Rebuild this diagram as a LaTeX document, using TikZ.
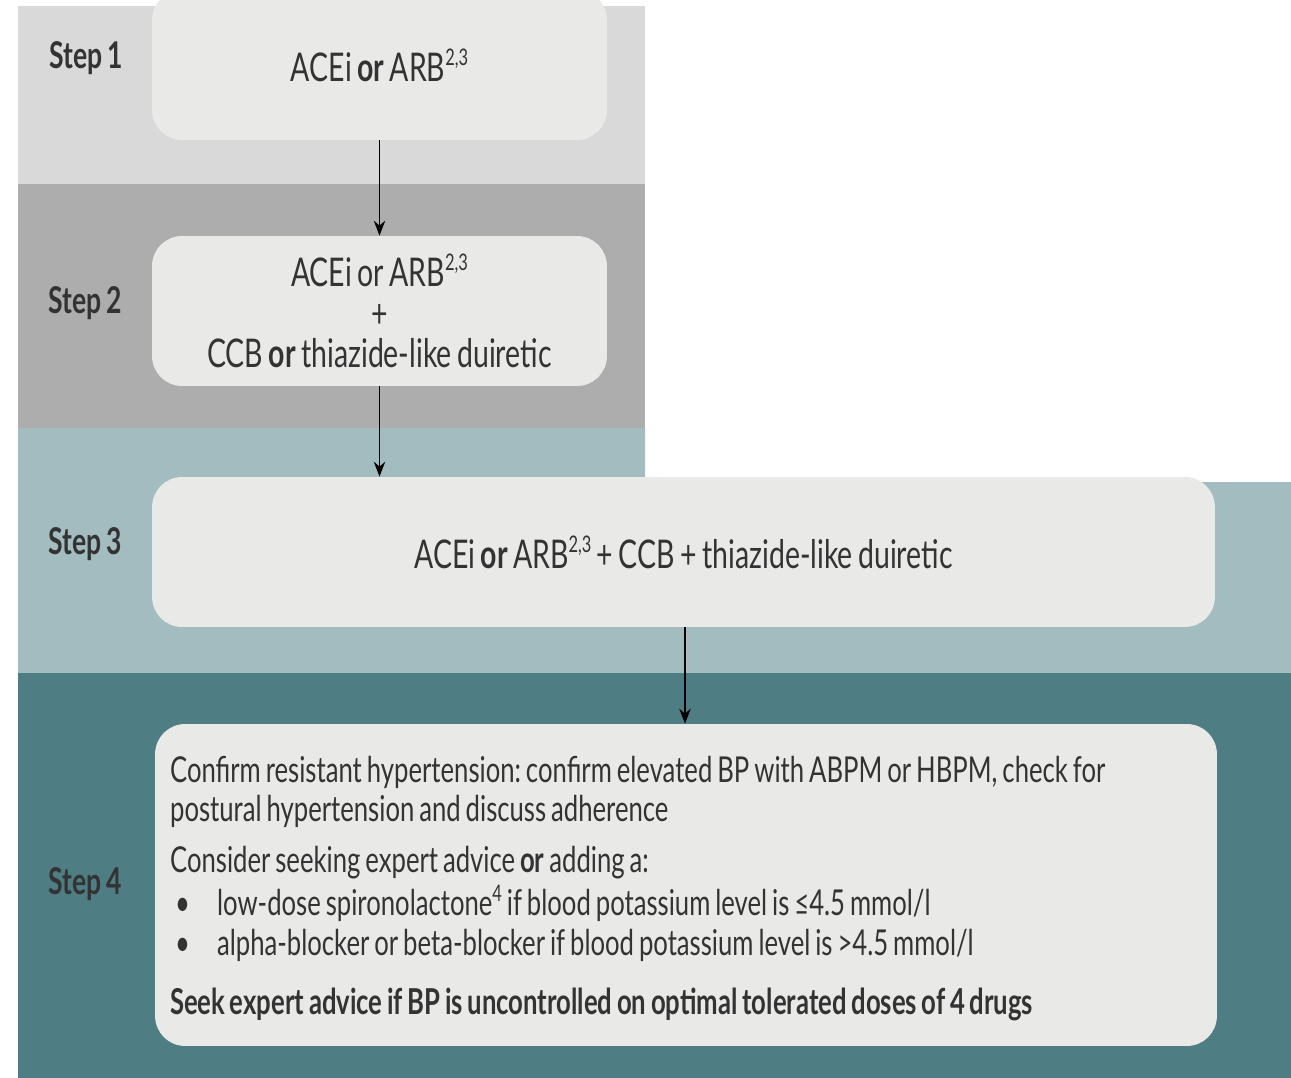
\documentclass[tikz,border=0pt]{standalone}
\usepackage{fontspec}
\setmainfont{Lato}[FakeStretch=0.72,WordSpace=0.75]
\usetikzlibrary{arrows.meta}
\definecolor{bandA}{HTML}{D9D9D9}
\definecolor{bandB}{HTML}{ADADAD}
\definecolor{bandC}{HTML}{A3BCC0}
\definecolor{bandD}{HTML}{4F7D84}
\definecolor{boxfill}{HTML}{E9E9E8}
\definecolor{txt}{HTML}{333333}
\frenchspacing
\newcommand{\supr}[1]{\raisebox{0.4em}{\fontsize{13}{13}\selectfont #1}}
\begin{document}
\begin{tikzpicture}[x=0.02cm,y=-0.02cm,
  stepbox/.style={fill=boxfill,draw=none,rounded corners=0.6cm,text=txt,align=center,inner sep=0pt},
  steplabel/.style={text=txt,font=\fontsize{21}{24}\selectfont\bfseries,inner sep=0pt},
  flow/.style={draw=black,line width=1pt,-{Stealth[length=8.5pt,width=6.5pt]}},
  mainfont/.style={font=\fontsize{22.5}{23}\selectfont}]
\useasboundingbox (0,0) rectangle (1291,1078);
\fill[white] (0,0) rectangle (1291,1078);
% bands
\fill[bandA] (18,6) rectangle (645,184);
\fill[bandB] (18,184) rectangle (645,428);
\fill[bandC] (18,428) -- (645,428) -- (645,482) -- (1291,482) -- (1291,673) -- (18,673) -- cycle;
\fill[bandD] (18,673) rectangle (1291,1078);
% step labels
\node[steplabel] (l1) at (86,58) {Step 1};
\node[steplabel] (l2) at (85,303) {Step 2};
\node[steplabel] (l3) at (85,544) {Step 3};
\node[steplabel] (l4) at (85,884) {Step 4};
% boxes
\node[stepbox,mainfont,minimum width=9.1cm,minimum height=3.0cm] (b1) at (379.5,65)
  {ACEi \textbf{or} ARB\supr{2,3}};
\node[stepbox,mainfont,minimum width=9.1cm,minimum height=3.0cm] (b2) at (379.5,311)
  {ACEi or ARB\supr{2,3}\\ +\\ CCB \textbf{or} thiazide-like duiretic};
\node[stepbox,mainfont,minimum width=21.26cm,minimum height=3.0cm] (b3) at (683.5,552)
  {ACEi \textbf{or} ARB\supr{2,3} + CCB + thiazide-like duiretic};
\node[stepbox,font=\fontsize{20.3}{22.7}\selectfont,minimum width=21.24cm,minimum height=6.44cm] (b4) at (686,885)
  {\parbox{20.64cm}{\raggedright\vspace*{4pt}
   Confirm resistant hypertension: confirm elevated BP with ABPM or HBPM, check for\\
   postural hypertension and discuss adherence\\[6pt]
   Consider seeking expert advice \textbf{or} adding a:\\[2pt]
   \makebox[0.94cm][l]{\hspace{0.1cm}•}low-dose spironolactone\supr{4} if blood potassium level is ≤4.5 mmol/l\\
   \makebox[0.94cm][l]{\hspace{0.1cm}•}alpha-blocker or beta-blocker if blood potassium level is >4.5 mmol/l\\[11pt]
   \textbf{Seek expert advice if BP is uncontrolled on optimal tolerated doses of 4 drugs}}};
% arrows
\draw[flow] (b1.south) -- (b2.north);
\draw[flow] (b2.south) -- (b2.south |- b3.north);
\draw[flow] (b3.south -| 685,0) -- (b4.north -| 685,0);
\end{tikzpicture}
\end{document}
